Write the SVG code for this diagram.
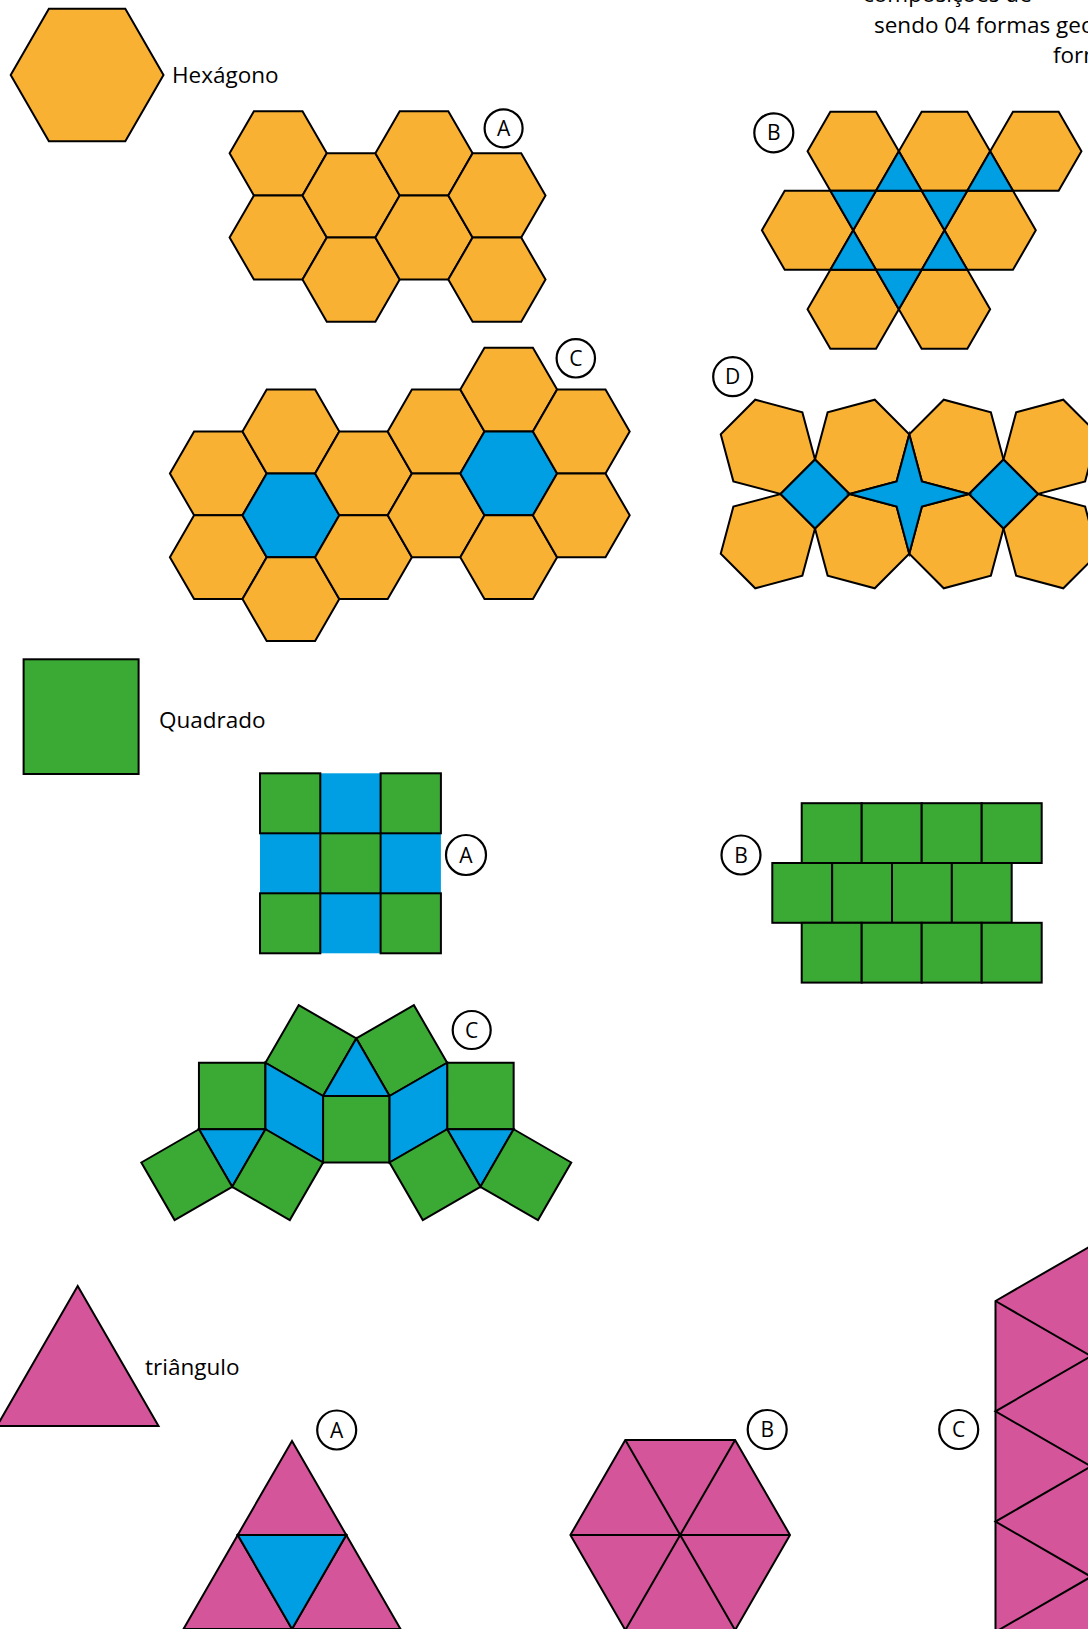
<svg xmlns="http://www.w3.org/2000/svg" width="1088" height="1629" viewBox="0 0 1088 1629">
<style>
.o{fill:#f9b133;stroke:#000;stroke-width:2;stroke-linejoin:miter}
.b{fill:#009ee2;stroke:#000;stroke-width:2}
.bn{fill:#009ee2;stroke:none}
.g{fill:#3aaa35;stroke:#000;stroke-width:2}
.p{fill:#d4559a;stroke:#000;stroke-width:2}
.ln{fill:none;stroke:#000;stroke-width:2}
.t{font-family:"Open Sans","Liberation Sans",sans-serif;font-size:22.5px;fill:#000}
.lc{fill:#fff;stroke:#000;stroke-width:2.2}
.lt{font-family:"Open Sans","Liberation Sans",sans-serif;font-size:21px;fill:#000;text-anchor:middle}
</style>
<defs>
<polygon id="hS" points="-76.4,0 -38.2,-66.2 38.2,-66.2 76.4,0 38.2,66.2 -38.2,66.2"/>
<polygon id="hA" points="-48.6,0 -24.3,-42.09 24.3,-42.09 48.6,0 24.3,42.09 -24.3,42.09"/>
<polygon id="hB" points="-45.65,0 -22.83,-39.53 22.83,-39.53 45.65,0 22.83,39.53 -22.83,39.53"/>
<polygon id="hC" points="-48.4,0 -24.2,-41.92 24.2,-41.92 48.4,0 24.2,41.92 -24.2,41.92"/>
</defs>

<g id="title-text">
<text class="t" x="863" y="1.5">composições de</text>
<text class="t" x="874" y="33.3">sendo 04 formas geo</text>
<text class="t" x="1053" y="63.3">form</text>
</g>

<g id="hexagono">
<use href="#hS" class="o" x="87.1" y="75"/>
<text class="t" x="172" y="83.3">Hexágono</text>
</g>

<g id="hex-A">
<use href="#hA" class="o" x="278.2" y="153.3"/>
<use href="#hA" class="o" x="278.2" y="237.5"/>
<use href="#hA" class="o" x="351.1" y="195.4"/>
<use href="#hA" class="o" x="351.1" y="279.6"/>
<use href="#hA" class="o" x="424" y="153.3"/>
<use href="#hA" class="o" x="424" y="237.5"/>
<use href="#hA" class="o" x="496.9" y="195.4"/>
<use href="#hA" class="o" x="496.9" y="279.6"/>
<circle class="lc" cx="503.6" cy="128.3" r="19"/>
<text class="lt" x="503.6" y="135.8">A</text>
</g>

<g id="hex-B">
<use href="#hB" class="o" x="853.2" y="151.2"/>
<use href="#hB" class="o" x="944.5" y="151.2"/>
<use href="#hB" class="o" x="1035.8" y="151.2"/>
<use href="#hB" class="o" x="807.55" y="230.26"/>
<use href="#hB" class="o" x="898.85" y="230.26"/>
<use href="#hB" class="o" x="990.15" y="230.26"/>
<use href="#hB" class="o" x="853.2" y="309.32"/>
<use href="#hB" class="o" x="944.5" y="309.32"/>
<polygon class="b" points="898.85,151.2 876.03,190.73 921.68,190.73"/>
<polygon class="b" points="990.15,151.2 967.33,190.73 1012.98,190.73"/>
<polygon class="b" points="830.38,190.73 876.03,190.73 853.2,230.26"/>
<polygon class="b" points="921.68,190.73 967.33,190.73 944.5,230.26"/>
<polygon class="b" points="853.2,230.26 830.38,269.79 876.03,269.79"/>
<polygon class="b" points="944.5,230.26 921.68,269.79 967.33,269.79"/>
<polygon class="b" points="876.03,269.79 921.68,269.79 898.85,309.32"/>
<circle class="lc" cx="773.8" cy="132.8" r="19.5"/>
<text class="lt" x="773.8" y="140.3">B</text>
</g>

<g id="hex-C">
<use href="#hC" class="o" x="218.3" y="473.4"/>
<use href="#hC" class="o" x="218.3" y="557.2"/>
<use href="#hC" class="o" x="290.9" y="431.5"/>
<use href="#hC" class="b" x="290.9" y="515.3"/>
<use href="#hC" class="o" x="290.9" y="599.1"/>
<use href="#hC" class="o" x="363.5" y="473.4"/>
<use href="#hC" class="o" x="363.5" y="557.2"/>
<use href="#hC" class="o" x="436.1" y="431.5"/>
<use href="#hC" class="o" x="436.1" y="515.3"/>
<use href="#hC" class="o" x="508.7" y="389.6"/>
<use href="#hC" class="b" x="508.7" y="473.4"/>
<use href="#hC" class="o" x="508.7" y="557.2"/>
<use href="#hC" class="o" x="581.3" y="431.5"/>
<use href="#hC" class="o" x="581.3" y="515.3"/>
<circle class="lc" cx="575.8" cy="358.3" r="19.2"/>
<text class="lt" x="575.8" y="365.8">C</text>
</g>

<g id="hex-D">
<polygon class="o" points="815,459.5 780.5,494 733.37,481.37 720.74,434.24 755.24,399.74 802.37,412.37"/>
<polygon class="o" points="815,459.5 849.5,494 896.63,481.37 909.26,434.24 874.76,399.74 827.63,412.37"/>
<polygon class="o" points="1003.52,459.5 969.02,494 921.89,481.37 909.26,434.24 943.76,399.74 990.89,412.37"/>
<polygon class="o" points="1003.52,459.5 1038.02,494 1085.15,481.37 1097.78,434.24 1063.28,399.74 1016.15,412.37"/>
<polygon class="o" points="815,528.5 780.5,494 733.37,506.63 720.74,553.76 755.24,588.26 802.37,575.63"/>
<polygon class="o" points="815,528.5 849.5,494 896.63,506.63 909.26,553.76 874.76,588.26 827.63,575.63"/>
<polygon class="o" points="1003.52,528.5 969.02,494 921.89,506.63 909.26,553.76 943.76,588.26 990.89,575.63"/>
<polygon class="o" points="1003.52,528.5 1038.02,494 1085.15,506.63 1097.78,553.76 1063.28,588.26 1016.15,575.63"/>
<polygon class="b" points="815,459.5 849.5,494 815,528.5 780.5,494"/>
<polygon class="b" points="1003.52,459.5 1038.02,494 1003.52,528.5 969.02,494"/>
<polygon class="b" points="909.26,434.24 921.89,481.37 969.02,494 921.89,506.63 909.26,553.76 896.63,506.63 849.5,494 896.63,481.37"/>
<circle class="lc" cx="732.7" cy="376.7" r="19.5"/>
<text class="lt" x="732.7" y="384.2">D</text>
</g>

<g id="quadrado">
<rect class="g" x="23.6" y="659.3" width="115" height="114.7"/>
<text class="t" x="159" y="728.3">Quadrado</text>
</g>

<g id="sq-A">
<rect class="bn" x="320.3" y="773.3" width="60.3" height="60"/>
<rect class="bn" x="260" y="833.3" width="60.3" height="60"/>
<rect class="bn" x="380.6" y="833.3" width="60.3" height="60"/>
<rect class="bn" x="320.3" y="893.3" width="60.3" height="60"/>
<rect class="g" x="260" y="773.3" width="60.3" height="60"/>
<rect class="g" x="380.6" y="773.3" width="60.3" height="60"/>
<rect class="g" x="320.3" y="833.3" width="60.3" height="60"/>
<rect class="g" x="260" y="893.3" width="60.3" height="60"/>
<rect class="g" x="380.6" y="893.3" width="60.3" height="60"/>
<circle class="lc" cx="466" cy="855" r="20"/>
<text class="lt" x="466" y="862.5">A</text>
</g>

<g id="sq-B">
<rect class="g" x="801.7" y="803.2" width="60" height="59.8"/>
<rect class="g" x="861.7" y="803.2" width="60" height="59.8"/>
<rect class="g" x="921.7" y="803.2" width="60" height="59.8"/>
<rect class="g" x="981.7" y="803.2" width="60" height="59.8"/>
<rect class="g" x="772.3" y="863" width="59.85" height="59.8"/>
<rect class="g" x="832.15" y="863" width="59.85" height="59.8"/>
<rect class="g" x="892" y="863" width="59.85" height="59.8"/>
<rect class="g" x="951.85" y="863" width="59.85" height="59.8"/>
<rect class="g" x="801.7" y="922.8" width="60" height="59.8"/>
<rect class="g" x="861.7" y="922.8" width="60" height="59.8"/>
<rect class="g" x="921.7" y="922.8" width="60" height="59.8"/>
<rect class="g" x="981.7" y="922.8" width="60" height="59.8"/>
<circle class="lc" cx="741" cy="855" r="19.5"/>
<text class="lt" x="741" y="862.5">B</text>
</g>

<g id="sq-C">
<polygon class="g" points="265.45,1062.75 298.7,1005.15 356.3,1038.4 323.05,1096"/>
<polygon class="g" points="447.15,1062.75 413.9,1005.15 356.3,1038.4 389.55,1096"/>
<rect class="g" x="198.95" y="1062.75" width="66.5" height="66.5"/>
<rect class="g" x="447.15" y="1062.75" width="66.5" height="66.5"/>
<rect class="g" x="323.05" y="1096" width="66.5" height="66.5"/>
<polygon class="b" points="323.05,1096 389.55,1096 356.3,1038.4"/>
<polygon class="b" points="265.45,1062.75 323.05,1096 323.05,1162.5 265.45,1129.25"/>
<polygon class="b" points="447.15,1062.75 389.55,1096 389.55,1162.5 447.15,1129.25"/>
<polygon class="b" points="198.95,1129.25 265.45,1129.25 232.2,1186.85"/>
<polygon class="b" points="513.65,1129.25 447.15,1129.25 480.4,1186.85"/>
<polygon class="g" points="198.95,1129.25 141.35,1162.5 174.6,1220.1 232.2,1186.85"/>
<polygon class="g" points="265.45,1129.25 323.05,1162.5 289.8,1220.1 232.2,1186.85"/>
<polygon class="g" points="513.65,1129.25 571.25,1162.5 538,1220.1 480.4,1186.85"/>
<polygon class="g" points="447.15,1129.25 389.55,1162.5 422.8,1220.1 480.4,1186.85"/>
<circle class="lc" cx="471.7" cy="1030" r="19"/>
<text class="lt" x="471.7" y="1037.5">C</text>
</g>

<g id="triangulo">
<polygon class="p" points="-3,1426 158.5,1426 77.7,1286"/>
<text class="t" x="145" y="1375">triângulo</text>
</g>

<g id="tri-A">
<polygon class="p" points="292,1441 237.75,1535 346.25,1535"/>
<polygon class="p" points="237.75,1535 183.5,1629 292,1629"/>
<polygon class="p" points="346.25,1535 292,1629 400.5,1629"/>
<polygon class="b" points="237.75,1535 346.25,1535 292,1629"/>
<circle class="lc" cx="336.7" cy="1430" r="19.5"/>
<text class="lt" x="336.7" y="1437.5">A</text>
</g>

<g id="tri-B">
<polygon class="p" points="790,1535 735.1,1439.9 625.3,1439.9 570.4,1535 625.3,1630.1 735.1,1630.1"/>
<path class="ln" d="M570.4,1535 L790,1535 M625.3,1439.9 L735.1,1630.1 M735.1,1439.9 L625.3,1630.1"/>
<circle class="lc" cx="767.2" cy="1429.5" r="19.5"/>
<text class="lt" x="767.2" y="1437">B</text>
</g>

<g id="tri-C">
<polygon class="p" points="995.5,1301 1091,1245.85 1091,1640 995.5,1640"/>
<polyline class="ln" points="995.5,1301 1091,1356.15 995.5,1411.3 1091,1466.45 995.5,1521.6 1091,1576.75 995.5,1631.9"/>
<circle class="lc" cx="958.7" cy="1429.5" r="19.5"/>
<text class="lt" x="958.7" y="1437">C</text>
</g>

<g id="connectors"></g>
</svg>
